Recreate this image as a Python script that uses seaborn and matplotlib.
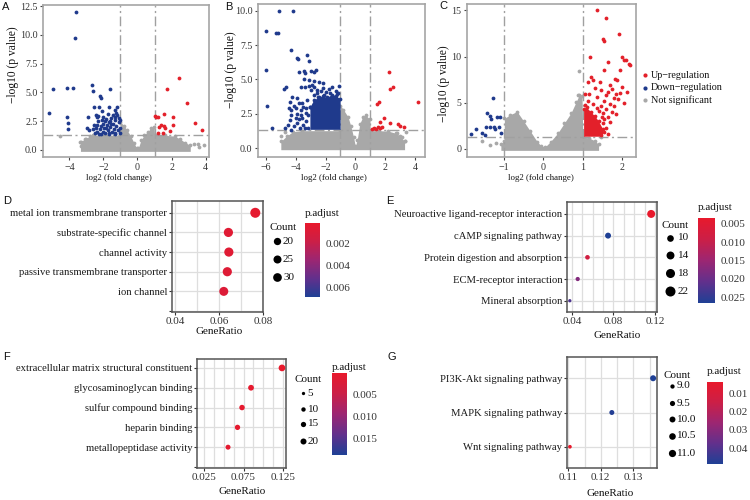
import numpy as np
import pandas as pd
import matplotlib
matplotlib.use("Agg")
import matplotlib.pyplot as plt
import seaborn as sns
from matplotlib.colors import LinearSegmentedColormap, Normalize
from matplotlib.cm import ScalarMappable

sns.set_theme(style="white")
plt.rcParams['font.family'] = ['Liberation Serif', 'DejaVu Serif']
plt.rcParams['axes.unicode_minus'] = True

# ---------------- volcano data ----------------
A_down = [(-3.61, 12.0), (-3.69, 9.7), (-4.98, 5.3), (-4.16, 5.4), (-3.76, 5.4), (-5.18, 3.24),
          (-4.16, 2.84), (-4.06, 2.31), (-4.06, 1.79), (-2.69, 5.64), (-2.63, 5.12), (-2.20, 4.72),
          (-2.16, 4.54), (-1.61, 5.3), (-2.53, 3.76), (-2.25, 3.7), (-2.92, 2.89), (-1.65, 3.7),
          (-1.18, 3.7), (-1.31, 3.47), (-2.06, 3.38), (-2.43, 3.04), (-2.39, 2.84), (-2.94, 1.88),
          (-2.86, 1.74), (-2.50, 1.5), (-2.45, 1.9), (-2.40, 2.2), (-2.35, 1.6), (-2.30, 2.5),
          (-2.25, 1.4), (-2.20, 1.8), (-2.15, 2.1), (-2.10, 2.6), (-2.05, 1.55), (-2.00, 2.3),
          (-1.95, 1.9), (-1.90, 1.45), (-1.85, 2.7), (-1.80, 2.15), (-1.75, 1.7), (-1.70, 2.45),
          (-1.65, 1.4), (-1.60, 2.0), (-1.55, 2.8), (-1.50, 1.6), (-1.45, 2.3), (-1.40, 1.85),
          (-1.35, 2.6), (-1.30, 1.5), (-1.25, 2.1), (-1.20, 3.0), (-1.15, 1.7), (-1.10, 2.4),
          (-1.05, 1.95), (-1.02, 1.45), (-1.10, 2.8), (-1.25, 3.2), (-1.45, 3.0), (-1.75, 3.1),
          (-2.00, 2.9), (-2.30, 2.95), (-2.55, 2.2), (-2.60, 1.8), (-1.90, 2.5), (-1.60, 2.55),
          (-1.35, 1.35), (-2.15, 1.4), (-1.70, 1.45), (-1.05, 2.6), (-1.30, 2.9), (-1.55, 2.25),
          (-1.85, 1.95)]
A_up = [(2.41, 6.28), (1.76, 5.3), (2.90, 4.1), (1.04, 2.95), (1.10, 2.85), (1.20, 2.84),
        (1.53, 3.1), (2.06, 2.84), (1.39, 2.14), (1.53, 2.08), (1.63, 1.94), (2.06, 2.17),
        (1.88, 1.65), (1.20, 1.5), (1.49, 1.5), (3.39, 2.31), (3.76, 1.74), (1.29, 2.0)]
A_ns = [(-4.55, 1.25), (-3.30, 0.72), (-3.30, 0.35), (-3.05, 0.95), (2.70, 0.55), (3.30, 0.55),
        (3.55, 0.5), (3.62, 0.25), (3.90, 0.4), (-2.90, 0.4)]
A_ns_x = [-3.35, -3.1, -2.8, -2.6, -1.02, -1.0, -0.8, -0.6, -0.4, -0.2, -0.05, 0.05, 0.2, 0.4,
          0.6, 0.8, 0.98, 1.0, 1.6, 2.2, 2.5, 2.8, 3.1]
A_ns_top = [0.7, 0.95, 1.2, 1.28, 1.28, 2.45, 2.1, 1.7, 1.2, 0.6, 0.15, 0.15, 0.85, 1.3,
            1.6, 1.9, 2.0, 1.28, 1.28, 1.2, 0.95, 0.65, 0.4]

B_down = [(-5.13, 10.0), (-4.2, 10.0), (-5.98, 8.55), (-5.31, 8.4), (-5.18, 8.4), (-4.33, 7.14),
          (-3.22, 6.78), (-3.89, 6.54), (-3.85, 6.45), (-3.09, 6.34), (-6.02, 5.69), (-3.38, 5.5),
          (-3.0, 5.64), (-2.78, 5.57), (-2.64, 5.69), (-5.93, 3.08), (-5.56, 1.45), (-4.33, 1.33),
          (-4.78, 4.29), (-4.67, 4.43), (-3.78, 5.57), (-3.44, 5.6), (-3.67, 4.48), (-3.4, 4.43),
          (-3.11, 4.53), (-2.89, 4.6), (-2.56, 4.24), (-2.33, 4.19), (-2.0, 4.12), (-1.67, 4.04),
          (-1.33, 4.19), (-1.18, 4.0), (-4.22, 3.75), (-3.89, 3.63), (-4.38, 3.39), (-4.11, 3.07),
          (-4.33, 2.78), (-4.29, 2.42), (-4.0, 2.18), (-3.67, 2.78), (-3.56, 3.27), (-3.22, 3.51),
          (-4.38, 2.06), (-3.89, 1.82), (-4.51, 1.69), (-3.67, 2.4), (-3.33, 2.59), (-3.04, 3.03),
          (-2.78, 3.87), (-2.44, 3.75), (-1.89, 3.63), (-1.44, 3.75), (-3.11, 4.96), (-2.78, 4.92),
          (-2.44, 4.84), (-3.44, 5.04), (-2.16, 4.72), (-4.1, 1.6), (-3.8, 2.1), (-3.5, 1.7),
          (-3.3, 2.0), (-3.2, 1.5), (-3.5, 3.0), (-3.75, 3.3), (-4.0, 2.9), (-3.3, 2.9),
          (-3.6, 2.2), (-3.9, 2.5), (-4.45, 2.9), (-3.15, 2.4), (-3.4, 1.5), (-3.7, 1.45),
          (-2.95, 4.2), (-2.2, 4.35), (-1.8, 4.3), (-1.55, 4.45), (-1.1, 4.5), (-2.6, 4.0),
          (-1.25, 3.95), (-2.1, 3.9), (-2.75, 4.45), (-4.7, 1.45)]
B_down_x = [-3.05, -2.8, -2.5, -2.2, -1.9, -1.6, -1.3, -1.02]
B_down_top = [3.0, 3.5, 3.7, 3.8, 3.7, 3.9, 3.8, 3.6]
B_up = [(2.24, 5.52), (2.51, 4.48), (2.33, 4.29), (1.56, 3.39), (1.44, 3.22), (4.18, 3.34),
        (1.89, 2.18), (1.67, 1.94), (2.33, 1.82), (2.89, 1.74), (2.96, 1.62), (3.27, 1.57),
        (1.22, 1.45), (1.40, 1.38), (1.53, 1.55), (1.65, 1.45), (1.12, 1.42), (1.80, 1.52)]
B_ns = [(-4.96, 0.9), (-4.75, 1.2), (2.78, 1.14), (3.11, 0.85), (3.40, 1.21), (3.30, 0.5)]
B_ns_x = [-5.0, -4.6, -4.2, -3.6, -1.02, -1.0, -0.8, -0.5, -0.3, -0.12, 0.0, 0.12, 0.3, 0.5,
          0.7, 0.98, 1.0, 1.6, 2.2, 2.7, 3.0, 3.3]
B_ns_top = [0.5, 0.9, 1.2, 1.28, 1.28, 3.1, 2.8, 2.3, 1.6, 0.8, 0.15, 0.6, 1.8, 2.3,
            2.4, 2.1, 1.28, 1.28, 1.25, 1.1, 0.9, 0.5]

C_down = [(-1.28, 5.5), (-1.43, 3.94), (-1.36, 3.58), (-1.33, 3.22), (-1.19, 3.44), (-1.10, 3.44),
          (-1.72, 2.17), (-1.46, 2.42), (-1.36, 2.42), (-1.23, 2.13), (-1.14, 2.35), (-1.55, 1.7),
          (-1.48, 1.52), (-1.08, 1.7), (-1.83, 1.63), (-1.26, 2.42)]
C_up = [(1.37, 15.0), (1.60, 14.17), (1.92, 12.47), (1.52, 11.89), (1.54, 11.71), (1.17, 9.94),
        (2.00, 10.0), (2.09, 9.65), (2.05, 9.6), (2.16, 9.2), (2.20, 9.1), (1.63, 9.4),
        (1.54, 8.57), (1.94, 8.5), (1.21, 7.84), (1.27, 7.48), (1.43, 7.3), (1.86, 7.48),
        (1.82, 7.6), (1.13, 7.3), (2.00, 6.76), (2.12, 6.22), (1.70, 6.9), (1.75, 6.5),
        (1.65, 6.2), (1.85, 6.0), (1.95, 6.1), (1.60, 5.8), (1.45, 6.4), (1.30, 6.6),
        (1.15, 6.0), (1.78, 5.5), (1.90, 5.4), (1.55, 5.2), (1.35, 5.6), (1.05, 5.9),
        (1.68, 4.9), (1.80, 4.6), (2.05, 5.0), (1.45, 4.6), (1.60, 4.3), (1.75, 4.0),
        (1.50, 3.9), (1.40, 4.1), (1.65, 3.5), (1.85, 3.8), (1.55, 3.2), (1.70, 2.9),
        (1.05, 4.8), (1.12, 5.2), (1.25, 4.9), (1.35, 4.4), (1.50, 2.8), (1.60, 2.3),
        (1.55, 1.8), (1.65, 1.6), (1.45, 1.5), (1.48, 3.5)]
C_up_x = [1.02, 1.1, 1.2, 1.3, 1.4, 1.5]
C_up_top = [4.3, 4.5, 4.0, 3.6, 3.0, 2.2]
C_ns = [(-1.36, 0.43), (-1.20, 0.6), (0.91, 8.4), (0.87, 5.85), (1.47, 1.25), (-1.55, 0.9)]
C_ns_x = [-1.08, -1.0, -0.99, -0.85, -0.67, -0.5, -0.33, -0.16, -0.05, 0.05, 0.18, 0.36, 0.53,
          0.7, 0.83, 0.91, 0.98, 1.0, 1.15, 1.3, 1.4]
C_ns_top = [0.5, 0.9, 3.3, 3.7, 4.05, 3.0, 1.9, 0.8, 0.3, 0.25, 0.8, 1.7, 2.8,
            3.9, 5.1, 5.85, 5.7, 1.28, 1.2, 0.9, 0.5]

# ---------------- enrichment data ----------------
D_terms = ["metal ion transmembrane transporter", "substrate-specific channel", "channel activity",
           "passive transmembrane transporter", "ion channel"]
D_ratio = [0.0765, 0.0643, 0.0645, 0.0638, 0.0622]
D_count = [31, 26, 26, 26, 25]
D_padj = [0.0003, 0.0006, 0.0006, 0.0007, 0.0008]

E_terms = ["Neuroactive ligand-receptor interaction", "cAMP signaling pathway",
           "Protein digestion and absorption", "ECM-receptor interaction", "Mineral absorption"]
E_ratio = [0.1163, 0.0748, 0.0550, 0.0456, 0.0380]
E_count = [22, 14, 10, 9, 7]
E_padj = [0.0034, 0.0266, 0.0080, 0.0175, 0.0225]

F_terms = ["extracellular matrix structural constituent", "glycosaminoglycan binding",
           "sulfur compound binding", "heparin binding", "metallopeptidase activity"]
F_ratio = [0.1237, 0.0845, 0.0731, 0.0674, 0.0554]
F_count = [21, 14, 12, 11, 9]
F_padj = [0.0002, 0.0004, 0.0005, 0.0006, 0.0008]

G_terms = ["PI3K-Akt signaling pathway", "MAPK signaling pathway", "Wnt signaling pathway"]
G_ratio = [0.1361, 0.1234, 0.1105]
G_count = [11, 10, 9]
G_padj = [0.0487, 0.0480, 0.0040]

# ---------------- styling ----------------
W, H = 750, 500
GRAY = "#A8A8A8"
RED = "#E3202A"
BLUE = "#1F3A8C"
VS = 7.5
cmap = LinearSegmentedColormap.from_list(
    "padj", ["#E8192C", "#CB1F47", "#9C2672", "#62308C", "#1F4095"])

fig = plt.figure(figsize=(7.5, 5), dpi=100)
fig.patch.set_facecolor("white")


def add_ax(l, t, r, b):
    return fig.add_axes([l / W, 1 - b / H, (r - l) / W, (b - t) / H])


def volcano(ax, ns_x, ns_top, ns_bottom, ns_pts, down, up, xlim, ylim, xticks, yticks, ylabs,
            block=None):
    ax.fill_between(ns_x, ns_bottom, ns_top, color=GRAY, lw=0, zorder=1)
    sns.scatterplot(x=ns_x, y=ns_top, color=GRAY, s=VS, linewidth=0, ax=ax, zorder=1.2)
    sns.scatterplot(x=[p[0] for p in ns_pts], y=[p[1] for p in ns_pts], color=GRAY, s=VS,
                    linewidth=0, ax=ax, zorder=1.2)
    for v in (-1, 1):
        ax.axvline(v, color="#A0A0A0", lw=1.0, dashes=(7, 2.5, 1.5, 2.5), zorder=2)
    ax.axhline(1.30103, color="#A0A0A0", lw=1.0, dashes=(7, 2.5, 1.5, 2.5), zorder=2)
    if block is not None:
        bx, btop, bcol = block
        ax.fill_between(bx, 1.38, btop, color=bcol, lw=0, zorder=3)
        sns.scatterplot(x=bx, y=btop, color=bcol, s=VS, linewidth=0, ax=ax, zorder=3.1)
    sns.scatterplot(x=[p[0] for p in down], y=[p[1] for p in down], color=BLUE, s=VS,
                    linewidth=0, ax=ax, zorder=3.2)
    sns.scatterplot(x=[p[0] for p in up], y=[p[1] for p in up], color=RED, s=VS,
                    linewidth=0, ax=ax, zorder=3.2)
    ax.set_xlim(*xlim)
    ax.set_ylim(*ylim)
    ax.set_xticks(xticks)
    ax.set_xticklabels([(str(t).replace("-", "\u2212")) for t in xticks])
    ax.set_yticks(yticks)
    ax.set_yticklabels(ylabs)
    for s in ax.spines.values():
        s.set_color("#A5A5A5")
        s.set_linewidth(1.2)
    ax.tick_params(axis="both", length=2.5, width=0.8, color="#444444", labelsize=7.2,
                   labelcolor="#333333", pad=1.5, bottom=True, left=True, direction="out")
    ax.set_xlabel("")
    ax.set_ylabel("")
    ax.grid(False)


axA = add_ax(43, 5, 209, 157)
volcano(axA, A_ns_x, A_ns_top, -0.12, A_ns, A_down, A_up, (-5.55, 4.2), (-0.61, 12.6),
        [-4, -2, 0, 2, 4], [0, 2.5, 5, 7.5, 10, 12.5], ["0.0", "2.5", "5.0", "7.5", "10.0", "12.5"])
axB = add_ax(258, 4, 425, 157)
volcano(axB, B_ns_x, B_ns_top, -0.1, B_ns, B_down, B_up, (-6.53, 4.67), (-0.63, 10.48),
        [-6, -4, -2, 0, 2, 4], [0, 2.5, 5, 7.5, 10], ["0.0", "2.5", "5.0", "7.5", "10.0"],
        block=(B_down_x, B_down_top, BLUE))
axC = add_ax(467, 4, 636, 157)
volcano(axC, C_ns_x, C_ns_top, -0.15, C_ns, C_down, C_up, (-1.94, 2.35), (-0.87, 15.7),
        [-1, 0, 1, 2], [0, 5, 10, 15], ["0", "5", "10", "15"],
        block=(C_up_x, C_up_top, RED))


def dotplot(ax, terms, ratio, counts, padj, cnorm, size_norm, sizes, xlim, xticks, xlabs,
            grid_x, ylim, extra):
    df = pd.DataFrame({"term": terms, "GeneRatio": ratio, "Count": counts, "p.adjust": padj})
    sns.scatterplot(data=df, x="GeneRatio", y="term", size="Count", sizes=sizes,
                    size_norm=size_norm, hue="p.adjust", hue_norm=cnorm, palette=cmap,
                    legend=False, linewidth=0, ax=ax, zorder=3)
    n = len(terms)
    ax.set_ylim(*ylim)
    if extra:
        ax.set_yticks(list(range(n + 1)))
        ax.set_yticklabels(terms + [""])
    else:
        ax.set_yticks(list(range(n)))
        ax.set_yticklabels(terms)
    ax.set_xlim(*xlim)
    ax.set_xticks(xticks)
    ax.set_xticklabels(xlabs)
    ax.set_xticks(grid_x, minor=True)
    ax.grid(True, which="both", axis="x", color="#DEDEDE", lw=0.9)
    ax.grid(True, which="major", axis="y", color="#DEDEDE", lw=0.9)
    ax.set_axisbelow(True)
    for s in ax.spines.values():
        s.set_color("#555555")
        s.set_linewidth(1.1)
    ax.tick_params(axis="both", which="major", length=2, width=0.8, color="#333333",
                   labelcolor="#1A1A1A", pad=1.5, bottom=True, left=True, direction="out")
    ax.tick_params(axis="y", labelsize=7.7)
    ax.tick_params(axis="x", labelsize=8, labelcolor="#333333")
    ax.tick_params(which="minor", length=0)
    ax.set_xlabel("")
    ax.set_ylabel("")


def colorbar(l, t, r, b, vmin, vmax, ticks, labs):
    cax = add_ax(l, t, r, b)
    cb = fig.colorbar(ScalarMappable(norm=Normalize(vmin, vmax), cmap=cmap), cax=cax)
    cb.outline.set_visible(False)
    cb.minorticks_off()
    cb.set_ticks(ticks)
    cb.set_ticklabels(labs)
    cax.invert_yaxis()
    cax.tick_params(axis="y", which="major", direction="in", length=3, width=0.8,
                    color="white", left=True, right=True, labelleft=False, labelright=True,
                    labelsize=8, labelcolor="#333333", pad=4)


axD = add_ax(172, 201, 263, 312)
dotplot(axD, D_terms, D_ratio, D_count, D_padj, (0.0001, 0.0069), (25, 31), (42, 52),
        (0.0387, 0.0800), [0.04, 0.06, 0.08], ["0.04", "0.06", "0.08"],
        [0.04, 0.05, 0.06, 0.07, 0.08], (5.05, -0.6), True)
axE = add_ax(567, 202, 657, 312)
dotplot(axE, E_terms, E_ratio, E_count, E_padj, (0.0034, 0.0266), (7, 22), (5.6, 33),
        (0.0353, 0.1219), [0.04, 0.08, 0.12], ["0.04", "0.08", "0.12"],
        [0.04, 0.05, 0.06, 0.07, 0.08, 0.09, 0.10, 0.11, 0.12], (4.52, -0.55), False)
axF = add_ax(197, 359, 286, 468)
dotplot(axF, F_terms, F_ratio, F_count, F_padj, (0.0001, 0.0188), (9, 21), (13, 23.3),
        (0.0161, 0.1288), [0.025, 0.075, 0.125], ["0.025", "0.075", "0.125"],
        [0.025, 0.0375, 0.05, 0.0625, 0.075, 0.0875, 0.1, 0.1125, 0.125], (5.05, -0.45), True)
axG = add_ax(567, 357, 657, 468)
dotplot(axG, G_terms, G_ratio, G_count, G_padj, (0.0040, 0.0487), (9, 11), (7.1, 18.7),
        (0.1096, 0.1373), [0.11, 0.12, 0.13], ["0.11", "0.12", "0.13"],
        [0.11, 0.115, 0.12, 0.125, 0.13, 0.135], (2.62, -0.62), False)

colorbar(305, 223, 320, 297, 0.0001, 0.0069, [0.002, 0.004, 0.006], ["0.002", "0.004", "0.006"])
colorbar(698, 218, 715, 303, 0.0034, 0.0266, [0.005, 0.010, 0.015, 0.020, 0.025],
         ["0.005", "0.010", "0.015", "0.020", "0.025"])
colorbar(332, 373, 347, 455, 0.0001, 0.0188, [0.005, 0.010, 0.015], ["0.005", "0.010", "0.015"])
colorbar(707, 382, 723, 464, 0.0040, 0.0487, [0.01, 0.02, 0.03, 0.04],
         ["0.01", "0.02", "0.03", "0.04"])

# ---------------- overlay for texts & legends ----------------
ov = fig.add_axes([0, 0, 1, 1], zorder=10)
ov.set_xlim(0, W)
ov.set_ylim(H, 0)
ov.axis("off")
ov.patch.set_alpha(0)

for lab, x, y in [("A", 6, 7), ("B", 229, 7.5), ("C", 443, 6), ("D", 7, 201), ("E", 390, 201),
                  ("F", 6, 357), ("G", 392, 357)]:
    ov.text(x, y, lab, family=["Liberation Sans", "DejaVu Sans"], fontsize=8, ha="center",
            va="center", color="#111111")

for x in (119, 334, 541):
    ov.text(x, 178, "log2 (fold change)", fontsize=6.4, ha="center", va="center", color="#111111")
for x, y in ((13, 65), (231, 70), (444, 84)):
    ov.text(x, y, "\u2212log10 (p value)", fontsize=8.3, ha="center", va="center",
            rotation=90, color="#111111")

# volcano legend
leg_labels = ["Up\u2212regulation", "Down\u2212regulation", "Not significant"]
leg_cols = [RED, BLUE, GRAY]
for i, (lab, col) in enumerate(zip(leg_labels, leg_cols)):
    yy = 75 + i * 12.5
    ov.scatter([645], [yy], s=9, color=col, linewidth=0)
    ov.text(651, yy, lab, fontsize=7.3, ha="left", va="center", color="#111111")

for x, y in ((219, 332), (617, 335), (242, 492), (610, 493)):
    ov.text(x, y, "GeneRatio", fontsize=8, ha="center", va="center", color="#111111")

# p.adjust titles
for x, y in ((305, 213), (698, 208), (332, 367), (707, 372)):
    ov.text(x, y, "p.adjust", fontsize=8, ha="left", va="center", color="#111111")

# Count legends
D_leg = [20, 25, 30]
E_leg = [10, 14, 18, 22]
F_leg = [5, 10, 15, 20]
G_leg = [9.0, 9.5, 10.0, 10.5, 11.0]


def count_legend(title_xy, dot_x, lab_x, ys, vals, labs, s0, s1, v0, v1):
    ov.text(title_xy[0], title_xy[1], "Count", fontsize=8, ha="center", va="center",
            color="#111111")
    for y, v, lab in zip(ys, vals, labs):
        s = s0 + (v - v0) * (s1 - s0) / (v1 - v0)
        ov.scatter([dot_x], [y], s=s, color="black", linewidth=0)
        ov.text(lab_x, y, lab, fontsize=8, ha="left", va="center", color="#111111")


count_legend((283, 227), 277, 283, [241, 259, 277], D_leg, [str(v) for v in D_leg],
             27.7, 39.2, 20, 30)
count_legend((675, 225), 670, 678, [238, 255, 273, 291], E_leg, [str(v) for v in E_leg],
             23, 52, 10, 22)
count_legend((308, 380), 303, 307.5, [393, 409, 424, 441], F_leg, [str(v) for v in F_leg],
             5.6, 18.7, 5, 20)
count_legend((677, 375), 672, 676.5, [386, 403, 419, 436, 453], G_leg,
             ["%.1f" % v for v in G_leg], 9.5, 27, 9, 11)

fig.savefig("out.png", dpi=100)
